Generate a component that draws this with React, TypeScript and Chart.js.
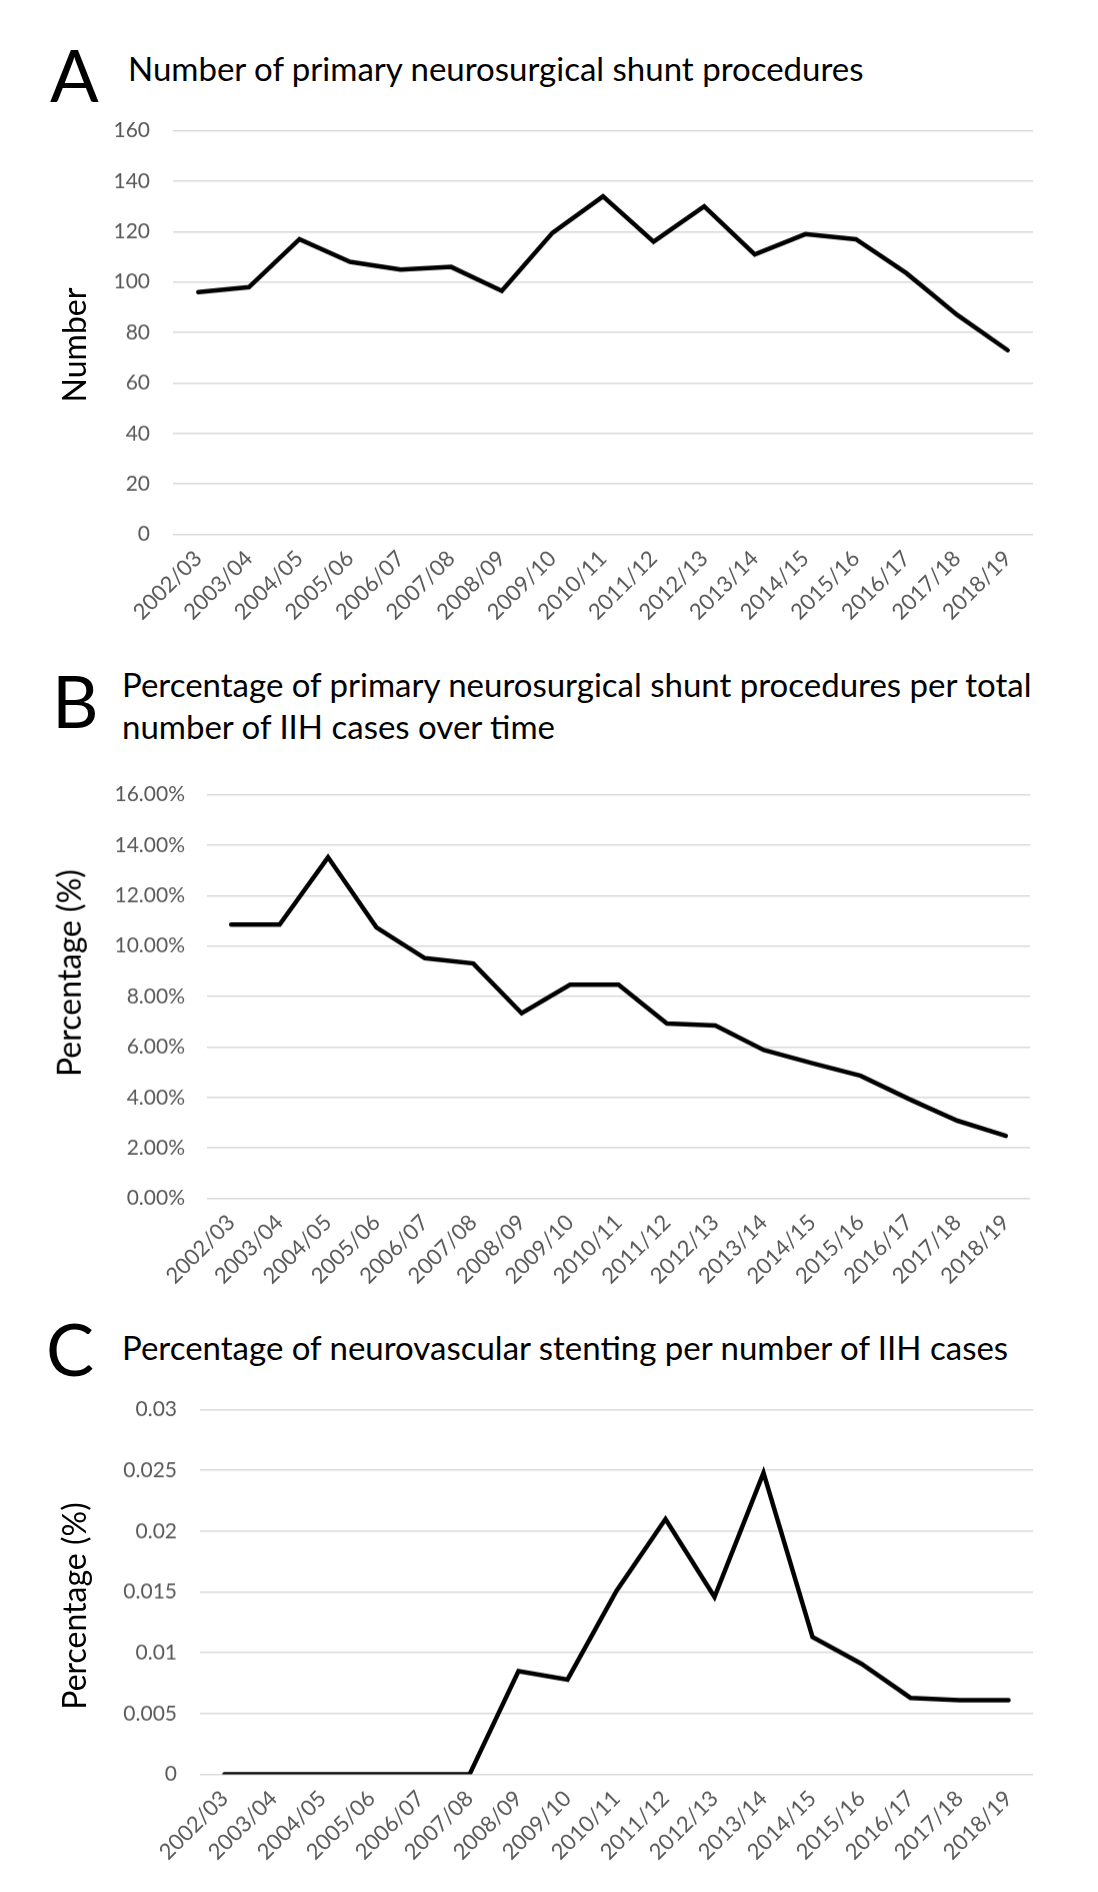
import React, { useEffect, useRef } from "react";
import { Chart, registerables } from "chart.js";

Chart.register(...registerables);

const categories = [
  "2002/03", "2003/04", "2004/05", "2005/06", "2006/07", "2007/08", "2008/09", "2009/10",
  "2010/11", "2011/12", "2012/13", "2013/14", "2014/15", "2015/16", "2016/17", "2017/18", "2018/19",
];

const shuntCounts = [96, 98, 117, 108, 105, 106, 96.5, 119.5, 134, 116, 130, 111, 119, 117, 103.5, 87, 73];

const shuntPercent = [10.85, 10.85, 13.52, 10.74, 9.52, 9.31, 7.34, 8.47, 8.47, 6.93, 6.85, 5.88, 5.36, 4.86, 3.94, 3.08, 2.48];

const stentingPercent = [0, 0, 0, 0, 0, 0, 0.0085, 0.0078, 0.0151, 0.021, 0.0146, 0.0248, 0.0113, 0.0091, 0.0063, 0.0061, 0.0061];

const axisA = { min: 0, max: 160, step: 20 };
const axisB = { min: 0, max: 16, step: 2 };
const axisC = { min: 0, max: 0.03, step: 0.005 };

const fmtA = (v: number) => String(v);
const fmtB = (v: number) => `${v.toFixed(2)}%`;
const fmtC = (v: number) => String(Number(v.toFixed(3)));

const TICK_COLOR = "#595959";
const GRID_COLOR = "#d9d9d9";
const FONT = "Lato";
const Y_FONT = 21;
const X_FONT = 22;

type ChartProps = {
  values: number[];
  axis: { min: number; max: number; step: number };
  fmt: (v: number) => string;
  gridLeft: number;
  gridRight: number;
  gridTop: number;
  gridBottom: number;
  tickPad: number;
};

const HALF_LABEL = (Y_FONT * 1.2) / 2;
const X_AXIS_H = 110;
const PAGE_W = 1098;

function LineChart(p: ChartProps) {
  const ref = useRef<HTMLCanvasElement | null>(null);
  useEffect(() => {
    if (!ref.current) return;
    const chart = new Chart(ref.current, {
      type: "line",
      data: {
        labels: categories,
        datasets: [
          {
            data: p.values,
            borderColor: "#000000",
            borderWidth: 4.5,
            pointRadius: 0,
            tension: 0,
            borderJoinStyle: "miter",
            borderCapStyle: "round",
            fill: false,
          },
        ],
      },
      options: {
        animation: false,
        responsive: true,
        maintainAspectRatio: false,
        devicePixelRatio: 1,
        layout: { padding: { top: 0, right: PAGE_W - p.gridRight, left: 0, bottom: 0 } },
        plugins: { legend: { display: false }, tooltip: { enabled: false }, title: { display: false } },
        scales: {
          x: {
            offset: true,
            grid: { display: false, drawTicks: false },
            border: { display: false },
            ticks: {
              color: TICK_COLOR,
              font: { family: FONT, size: X_FONT },
              minRotation: 45,
              maxRotation: 45,
              autoSkip: false,
              padding: 11,
            },
            afterFit: (s: any) => {
              s.height = X_AXIS_H;
            },
          },
          y: {
            min: p.axis.min,
            max: p.axis.max,
            grid: { color: GRID_COLOR, lineWidth: 1.6, drawTicks: false },
            border: { display: false },
            ticks: {
              stepSize: p.axis.step,
              color: TICK_COLOR,
              font: { family: FONT, size: Y_FONT },
              padding: p.tickPad,
              callback: (v: any) => p.fmt(Number(v)),
            },
            afterFit: (s: any) => {
              s.width = p.gridLeft;
            },
          },
        },
      },
    });
    return () => chart.destroy();
  }, []);
  const topOffset = HALF_LABEL + p.tickPad;
  const top = p.gridTop - topOffset;
  const height = p.gridBottom - p.gridTop + topOffset + X_AXIS_H;
  return (
    <div style={{ position: "absolute", left: 0, top, width: PAGE_W, height }}>
      <canvas ref={ref} />
    </div>
  );
}

const LETTER_SIZE = 72;
const TITLE_SIZE = 33;
const ASC = 0.987;

function Text(props: { x: number; baseline: number; size: number; children: React.ReactNode }) {
  return (
    <div
      style={{
        position: "absolute",
        left: props.x,
        top: props.baseline - ASC * props.size,
        fontFamily: FONT,
        fontSize: props.size,
        lineHeight: 1.2,
        color: "#000",
        whiteSpace: "nowrap",
        zIndex: 2,
      }}
    >
      {props.children}
    </div>
  );
}

function YTitle(props: { cx: number; cy: number; children: React.ReactNode }) {
  return (
    <div
      style={{
        position: "absolute",
        left: props.cx,
        top: props.cy,
        transform: "translate(-50%, -50%) rotate(-90deg)",
        fontFamily: FONT,
        fontSize: 32,
        lineHeight: 1.2,
        color: "#000",
        whiteSpace: "nowrap",
        zIndex: 2,
      }}
    >
      {props.children}
    </div>
  );
}

export default function App() {
  return (
    <div style={{ position: "absolute", left: 0, top: 0, width: PAGE_W, height: 1892, background: "#fff", overflow: "hidden" }}>
      <Text x={50} baseline={102} size={LETTER_SIZE}>A</Text>
      <Text x={128} baseline={82} size={TITLE_SIZE}>Number of primary neurosurgical shunt procedures</Text>
      <YTitle cx={74} cy={345}>Number</YTitle>
      <LineChart values={shuntCounts} axis={axisA} fmt={fmtA} gridLeft={173} gridRight={1033} gridTop={131} gridBottom={534} tickPad={23} />

      <Text x={52} baseline={728} size={LETTER_SIZE}>B</Text>
      <Text x={122} baseline={698} size={TITLE_SIZE}>Percentage of primary neurosurgical shunt procedures per total</Text>
      <Text x={122} baseline={740} size={TITLE_SIZE}>number of IIH cases over time</Text>
      <YTitle cx={69} cy={973}>Percentage (%)</YTitle>
      <LineChart values={shuntPercent} axis={axisB} fmt={fmtB} gridLeft={207} gridRight={1030} gridTop={795} gridBottom={1198} tickPad={22} />

      <Text x={46} baseline={1376} size={LETTER_SIZE}>C</Text>
      <Text x={122} baseline={1361} size={TITLE_SIZE}>Percentage of neurovascular stenting per number of IIH cases</Text>
      <YTitle cx={74} cy={1606}>Percentage (%)</YTitle>
      <LineChart values={stentingPercent} axis={axisC} fmt={fmtC} gridLeft={200} gridRight={1033} gridTop={1410} gridBottom={1774} tickPad={23} />
    </div>
  );
}
